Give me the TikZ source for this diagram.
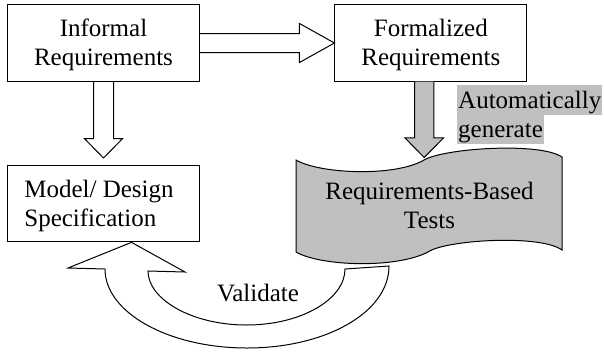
\documentclass[tikz,border=0pt]{standalone}
\usepackage{fontspec}
\setmainfont{Liberation Serif}
\usetikzlibrary{calc,backgrounds}
\definecolor{silver}{HTML}{C0C0C0}
\begin{document}
\begin{tikzpicture}[x=1pt,y=-1pt,
  every node/.style={font=\fontsize{25}{29}\selectfont},
  frame/.style={draw,line width=1pt,minimum width=191.7pt,minimum height=76.3pt,inner sep=0pt},
  txt/.style={align=center,inner sep=0pt},
  hollow/.style={draw,fill=white,line width=1pt,line join=miter},
  grayarrow/.style={draw,fill=silver,line width=1pt,line join=miter},
  hl/.style={fill=silver,anchor=base west,inner xsep=1pt,inner ysep=0pt,text height=23pt,text depth=7pt}]
\useasboundingbox (0,0) rectangle (604,354);

% boxes
\node[frame] (inf) at (103.5,43) {};
\node[txt] (inft) at ($(inf.center)+(0,2.2)$) {Informal\\Requirements};
\node[frame] (form) at (430.8,43) {};
\node[txt] (formt) at ($(form.center)+(0,2.2)$) {Formalized\\Requirements};
\node[frame] (model) at (103.5,203.7) {};
\node[txt,align=left,anchor=west] (modelt) at ($(model.west)+(17,2.5)$) {Model/ Design\\Specification};

% tape
\path[draw,fill=silver,line width=1pt] (296,160)
  .. controls (320,174) and (395,177) .. (424,160)
  .. controls (445,148) and (540,142) .. (562,157)
  -- (562,250)
  .. controls (540,234) and (445,240) .. (428,252)
  .. controls (395,269) and (320,266) .. (296,252) -- cycle;
\node[txt] (tests) at (429.5,205.5) {Requirements-Based\\Tests};

% label
\node[hl] (auto1) at (457,108.3) {Automatically};
\node[hl] (auto2) at (457,137.3) {generate};

% validate
\node[anchor=base,inner sep=0pt] (val) at (258,301.7) {Validate};

\coordinate (ltip) at (103.5,158);
\coordinate (gtip) at (424.2,157.5);
\coordinate (ctip) at ($(model.south)+(28,0)$);

\begin{pgfonlayer}{background}
% horizontal hollow arrow
\draw[hollow] ($(inf.east)+(0,-9.5)$) -- ($(form.west)+(-35,-9.5)$) -- ($(form.west)+(-35,-19.5)$)
  -- (form.west) -- ($(form.west)+(-35,19.5)$) -- ($(form.west)+(-35,9.5)$) -- ($(inf.east)+(0,9.5)$);
% down hollow arrow
\draw[hollow] ($(inf.south)+(-10,0)$) -- ($(inf.south)+(-10,57)$) -- ($(inf.south)+(-19,57)$)
  -- (ltip) -- ($(inf.south)+(19,57)$) -- ($(inf.south)+(10,57)$) -- ($(inf.south)+(10,0)$);
\end{pgfonlayer}

% gray arrow
\draw[grayarrow] ($(form.south)+(-16.3,0)$) -- ($(form.south)+(-16.3,56.3)$) -- ($(form.south)+(-25.8,56.3)$)
  -- (gtip) -- ($(form.south)+(12.7,56.3)$) -- ($(form.south)+(3.1,56.3)$) -- ($(form.south)+(3.1,0)$);

% curved validate arrow
\draw[hollow] (148,271) -- (185,272) -- (ctip) -- (68,268) -- (105,269)
  .. controls (105,312.6) and (168.6,348) .. (247,348)
  .. controls (325.4,348) and (389,312.6) .. (389,266)
  -- (345,269)
  .. controls (345,299.4) and (301,325) .. (246.5,325)
  .. controls (192,325) and (148,299.4) .. (148,271) -- cycle;
\end{tikzpicture}
\end{document}
